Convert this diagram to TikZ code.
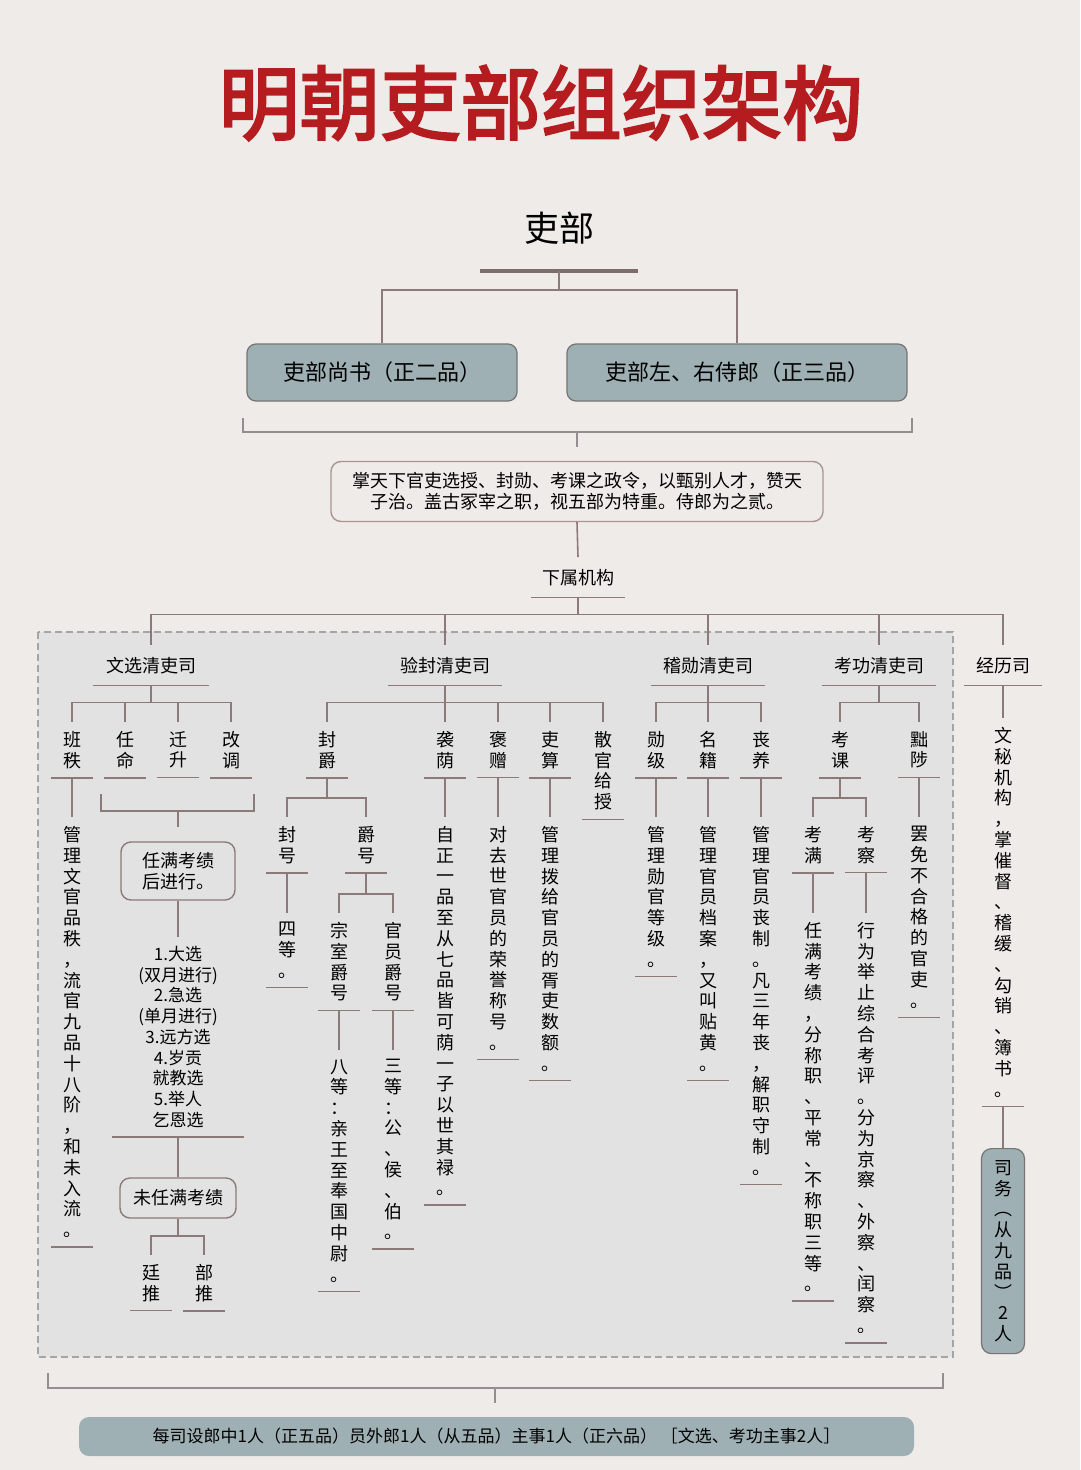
\documentclass[tikz,border=0pt]{standalone}
\usepackage{fontspec}
\setmainfont{Noto Sans CJK SC}
\newfontfamily\titlefont{Noto Sans CJK SC}[FakeBold=3]

\definecolor{bgc}{RGB}{238,235,233}
\definecolor{regc}{RGB}{226,226,226}
\definecolor{dashc}{RGB}{165,165,165}
\definecolor{linec}{RGB}{140,122,120}
\definecolor{brc}{RGB}{150,142,142}
\definecolor{boxc}{RGB}{158,176,180}
\definecolor{boxd}{RGB}{118,116,116}
\definecolor{barc}{RGB}{125,108,104}
\definecolor{titlec}{RGB}{180,28,32}
\definecolor{zhangc}{RGB}{172,148,143}

\newcommand\hfont{\fontsize{18}{21}\selectfont}
\newcommand\vfont{\fontsize{18}{20.8}\selectfont}
\newcommand\lfont{\fontsize{17}{20.75}\selectfont}

% one glyph per line
\makeatletter
\newcommand\vtext[1]{\@tfor\vt@ch:=#1\do{\vt@ch\par}}
\makeatother

\begin{document}
\begin{tikzpicture}[x=1pt,y=-1pt,
  ln/.style={draw=linec, line width=1.6pt},
  br/.style={draw=brc, line width=1.6pt},
  ul/.style={append after command={(\tikzlastnode.south west) edge[ln] (\tikzlastnode.south east)}},
  hd/.style={anchor=north, text width=#1, inner xsep=0pt, inner ysep=0pt, minimum height=40pt, align=center, font=\hfont, ul},
  vt/.style={anchor=north, text width=41pt, inner xsep=0pt, inner ysep=9pt, align=center, font=\vfont, ul},
  topbox/.style={draw=boxd, fill=boxc, rounded corners=9pt, line width=1.2pt, font=\fontsize{22}{26}\selectfont},
  tbox/.style={draw=linec, rounded corners=10pt, line width=1.4pt, align=center, font=\hfont}]
\useasboundingbox (0,0) rectangle (1080,1470);
\fill[bgc] (0,0) rectangle (1080,1470);
\filldraw[fill=regc, draw=dashc, line width=1.2pt, dash pattern=on 7pt off 4pt] (38,632) rectangle (953,1357);

% head
\node[font={\titlefont\fontsize{80.5}{82}\selectfont}, text=titlec] (title) at (541,103) {明朝吏部组织架构};
\node[font=\fontsize{35}{40}\selectfont, text width=158pt, align=center, inner xsep=0pt, inner ysep=26pt, anchor=south,
  append after command={(\tikzlastnode.south west) edge[draw=barc, line width=4pt] (\tikzlastnode.south east)}] (bu) at (559,271) {吏部};
\node[topbox, minimum width=270pt, minimum height=57pt] (shang) at (382,372.5) {吏部尚书（正二品）};
\node[topbox, minimum width=340pt, minimum height=57pt] (shi) at (737,372.5) {吏部左、右侍郎（正三品）};
\draw[ln] (bu.south) -- ++(0,19) -| (shang.north);
\draw[ln] (bu.south) -- ++(0,19) -| (shi.north);

\coordinate (brl) at (243,418);
\coordinate (brm) at (577,432);
\coordinate (brr) at (912,418);
\draw[br] (brl) |- (brm) -| (brr);
\draw[br] (brm) -- ++(0,15);

\node[tbox, draw=zhangc, fill=bgc, minimum width=492pt, minimum height=60pt] (zhang) at (577,491.5)
  {掌天下官吏选授、封勋、考课之政令，以甄别人才，赞天\\子治。盖古冢宰之职，视五部为特重。侍郎为之贰。};
\node[hd=93pt] (xiashu) at (578,557) {下属机构};
\draw[ln] (zhang.south) -- (xiashu.north);

% five offices
\node[hd=115pt] (wenxuan) at (151,645) {文选清吏司};
\node[hd=114pt] (yanfeng) at (445,645) {验封清吏司};
\node[hd=113pt] (jixun) at (708,645) {稽勋清吏司};
\node[hd=114pt] (kaogong) at (879,645) {考功清吏司};
\node[hd=77pt] (jingli) at (1003,645) {经历司};
\draw[ln] (xiashu.south) -- ++(0,17) -| (wenxuan.north);
\draw[ln] (xiashu.south) -- ++(0,17) -| (yanfeng.north);
\draw[ln] (xiashu.south) -- ++(0,17) -| (jixun.north);
\draw[ln] (xiashu.south) -- ++(0,17) -| (kaogong.north);
\draw[ln] (xiashu.south) -- ++(0,17) -| (jingli.north);

% wenxuan
\node[vt] (banzhi) at (72,722) {\vtext{班秩}};
\node[vt] (renming) at (125,722) {\vtext{任命}};
\node[vt] (qiansheng) at (178,722) {\vtext{迁升}};
\node[vt] (gaidiao) at (231,722) {\vtext{改调}};
\draw[ln] (wenxuan.south) -- ++(0,17) -| (banzhi.north);
\draw[ln] (wenxuan.south) -- ++(0,17) -| (renming.north);
\draw[ln] (wenxuan.south) -- ++(0,17) -| (qiansheng.north);
\draw[ln] (wenxuan.south) -- ++(0,17) -| (gaidiao.north);
\node[vt] (banzhi-d) at (72,817) {\vtext{管理文官品秩，流官九品十八阶，和未入流。}};
\draw[ln] (banzhi.south) -- (banzhi-d.north);

\coordinate (grpl) at (101,794);
\coordinate (grpm) at (178,811);
\coordinate (grpr) at (254,794);
\draw[ln] (grpl) |- (grpm) -| (grpr);
\draw[ln] (grpm) -- ++(0,16);
\node[tbox, minimum width=114pt, minimum height=58pt] (renman) at (178,871) {任满考绩\\后进行。};
\node[anchor=north, text width=131pt, inner xsep=0pt, inner ysep=9pt, align=center, font=\lfont, ul] (xuan) at (178,937)
  {1.大选\\(双月进行)\\2.急选\\(单月进行)\\3.远方选\\4.岁贡\\就教选\\5.举人\\乞恩选};
\draw[ln] (renman.south) -- (xuan.north);
\node[tbox, minimum width=116pt, minimum height=40pt] (weiren) at (178,1198) {未任满考绩};
\draw[ln] (xuan.south) -- (weiren.north);
\node[vt] (tingtui) at (151,1255) {\vtext{廷推}};
\node[vt] (butui) at (204,1255) {\vtext{部推}};
\draw[ln] (weiren.south) -- ++(0,17) -| (tingtui.north);
\draw[ln] (weiren.south) -- ++(0,17) -| (butui.north);

% yanfeng
\node[vt] (fengjue) at (327,722) {\vtext{封爵}};
\node[vt] (xiyin) at (445,722) {\vtext{袭荫}};
\node[vt] (baozeng) at (498,722) {\vtext{褒赠}};
\node[vt] (lisuan) at (550,722) {\vtext{吏算}};
\node[vt] (sanguan) at (603,722) {\vtext{散官给授}};
\draw[ln] (yanfeng.south) -- ++(0,17) -| (fengjue.north);
\draw[ln] (yanfeng.south) -- ++(0,17) -| (xiyin.north);
\draw[ln] (yanfeng.south) -- ++(0,17) -| (baozeng.north);
\draw[ln] (yanfeng.south) -- ++(0,17) -| (lisuan.north);
\draw[ln] (yanfeng.south) -- ++(0,17) -| (sanguan.north);
\node[vt] (fenghao) at (287,817) {\vtext{封号}};
\node[vt] (juehao) at (366,817) {\vtext{爵号}};
\draw[ln] (fengjue.south) -- ++(0,20) -| (fenghao.north);
\draw[ln] (fengjue.south) -- ++(0,20) -| (juehao.north);
\node[vt] (fenghao-d) at (287,913) {\vtext{四等。}};
\draw[ln] (fenghao.south) -- (fenghao-d.north);
\node[vt] (zongshi) at (339,913) {\vtext{宗室爵号}};
\node[vt] (guanyuan) at (393,913) {\vtext{官员爵号}};
\draw[ln] (juehao.south) -- ++(0,21) -| (zongshi.north);
\draw[ln] (juehao.south) -- ++(0,21) -| (guanyuan.north);
\node[vt] (zongshi-d) at (339,1050) {\vtext{八等：亲王至奉国中尉。}};
\node[vt] (guanyuan-d) at (393,1050) {\vtext{三等：公、侯、伯。}};
\draw[ln] (zongshi.south) -- (zongshi-d.north);
\draw[ln] (guanyuan.south) -- (guanyuan-d.north);
\node[vt] (xiyin-d) at (445,817) {\vtext{自正一品至从七品皆可荫一子以世其禄。}};
\node[vt] (baozeng-d) at (498,817) {\vtext{对去世官员的荣誉称号。}};
\node[vt] (lisuan-d) at (550,817) {\vtext{管理拨给官员的胥吏数额。}};
\draw[ln] (xiyin.south) -- (xiyin-d.north);
\draw[ln] (baozeng.south) -- (baozeng-d.north);
\draw[ln] (lisuan.south) -- (lisuan-d.north);

% jixun
\node[vt] (xunji) at (656,722) {\vtext{勋级}};
\node[vt] (mingji) at (708,722) {\vtext{名籍}};
\node[vt] (sangyang) at (761,722) {\vtext{丧养}};
\draw[ln] (jixun.south) -- ++(0,17) -| (xunji.north);
\draw[ln] (jixun.south) -- ++(0,17) -| (mingji.north);
\draw[ln] (jixun.south) -- ++(0,17) -| (sangyang.north);
\node[vt] (xunji-d) at (656,817) {\vtext{管理勋官等级。}};
\node[vt] (mingji-d) at (708,817) {\vtext{管理官员档案，又叫贴黄。}};
\node[vt] (sangyang-d) at (761,817) {\vtext{管理官员丧制。凡三年丧，解职守制。}};
\draw[ln] (xunji.south) -- (xunji-d.north);
\draw[ln] (mingji.south) -- (mingji-d.north);
\draw[ln] (sangyang.south) -- (sangyang-d.north);

% kaogong
\node[vt] (kaoke) at (840,722) {\vtext{考课}};
\node[vt] (chuzhi) at (919,722) {\vtext{黜陟}};
\draw[ln] (kaogong.south) -- ++(0,17) -| (kaoke.north);
\draw[ln] (kaogong.south) -- ++(0,17) -| (chuzhi.north);
\node[vt] (kaoman) at (813,817) {\vtext{考满}};
\node[vt] (kaocha) at (866,817) {\vtext{考察}};
\draw[ln] (kaoke.south) -- ++(0,20) -| (kaoman.north);
\draw[ln] (kaoke.south) -- ++(0,20) -| (kaocha.north);
\node[vt] (kaoman-d) at (813,913) {\vtext{任满考绩，分称职、平常、不称职三等。}};
\node[vt] (kaocha-d) at (866,913) {\vtext{行为举止综合考评。分为京察、外察、闰察。}};
\draw[ln] (kaoman.south) -- (kaoman-d.north);
\draw[ln] (kaocha.south) -- (kaocha-d.north);
\node[vt] (chuzhi-d) at (919,817) {\vtext{罢免不合格的官吏。}};
\draw[ln] (chuzhi.south) -- (chuzhi-d.north);

% jingli
\node[vt] (jingli-d) at (1003,718) {\vtext{文秘机构，掌催督、稽缓、勾销、簿书。}};
\draw[ln] (jingli.south) -- (jingli-d.north);
\node[anchor=north, draw=boxd, fill=boxc, rounded corners=10pt, line width=1.2pt, text width=43pt, inner xsep=0pt,
  minimum height=205pt, align=center, font=\vfont] (siwu) at (1003,1148) {\vtext{司务︵从九品︶2人}};
\draw[ln] (jingli-d.south) -- (siwu.north);

% staff of each office
\coordinate (botl) at (48,1373);
\coordinate (botm) at (495,1388);
\coordinate (botr) at (943,1373);
\draw[br] (botl) |- (botm) -| (botr);
\draw[br] (botm) -- ++(0,15);
\node[fill=boxc, rounded corners=10pt, minimum width=835pt, minimum height=39pt, font=\fontsize{17}{20}\selectfont] (mei) at (496.5,1436.5)
  {每司设郎中1人（正五品）员外郎1人（从五品）主事1人（正六品） ［文选、考功主事2人］};
\end{tikzpicture}
\end{document}
